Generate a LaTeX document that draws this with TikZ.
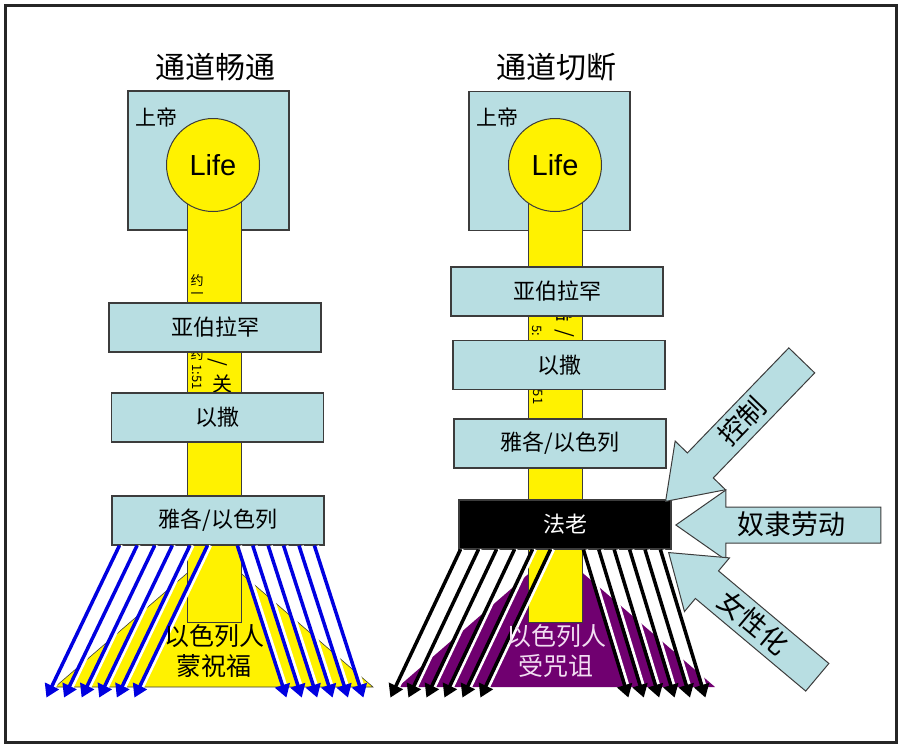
\documentclass[tikz,border=0pt]{standalone}
\usepackage{fontspec}
\setmainfont{Noto Sans CJK SC}
\newfontfamily\lifefont{Liberation Sans}
\usetikzlibrary{shapes.arrows,arrows.meta}

\definecolor{heaven}{RGB}{184,222,226}
\definecolor{edge}{RGB}{60,60,60}
\definecolor{blessblue}{RGB}{0,0,225}
\definecolor{cursepurple}{RGB}{112,0,112}
\definecolor{cursetext}{RGB}{242,222,242}
\newcommand\fsz[1]{\fontsize{#1}{#1}\selectfont}

\begin{document}
\begin{tikzpicture}[x=1pt, y=-1pt,
	title/.style={font=\fsz{30}},
	god/.style={draw=edge, fill=heaven, line width=1.2pt, minimum width=161pt, minimum height=139pt, inner sep=0pt},
	life/.style={circle, draw=edge, fill=yellow, line width=1pt, minimum size=93pt, inner sep=0pt, font=\lifefont\fsz{29}},
	pillar/.style={draw=edge, fill=yellow, line width=1pt, minimum width=54pt, minimum height=#1, inner sep=0pt},
	gen/.style={draw=edge, fill=heaven, line width=1.2pt, minimum width=212pt, minimum height=49pt, inner sep=0pt, font=\fsz{22}},
	verse/.style={inner sep=0pt, font=\fsz{#1}},
	stream/.style={line width=3.5pt, -{Triangle[width=15pt,length=13pt]}, preaction={draw=white, line width=3pt, arrows=-, transform canvas={xshift=3.2pt}}},
	force/.style={single arrow, draw=edge, fill=heaven, line width=1pt, shape border rotate=180, single arrow head extend=17pt, single arrow tip angle=70, minimum height=#1, inner xsep=4pt, inner ysep=4pt, text height=23pt, text depth=4pt, font=\fsz{27}}
	]
	\useasboundingbox (0,0) rectangle (900,745);

	% left: channel open
	\fill[yellow, draw=edge, line width=0.6pt] (55,687) -- (214,550) -- (373,687) -- cycle;
	\node (godL) at (208.5,160.5) [god] {};
	\node (pillarL) at (214,411) [pillar=422pt] {};
	\node (lifeL) at (213,165) [life] {Life};
	\node (godtxtL) at (132,117) [anchor=west, font=\fsz{21}] {上帝};
	\node (v1) at (197,281) [verse=13] {约};
	\node (v2) at (197,296) [verse=13] {一};
	\node (v3) at (197,355) [verse=13] {约};
	\node (v4) at (197,377) [verse=13, rotate=-90] {1:51};
	\node (v5) at (218,362) [verse=20, rotate=-90] {/};
	\node (v6) at (222,384) [verse=20] {关};
	\node (abrahamL) at (215,327.5) [gen] {亚伯拉罕};
	\node (isaacL) at (217.5,417.5) [gen] {以撒};
	\node (jacobL) at (218,520.5) [gen] {雅各/以色列};
	\foreach \k in {0,...,5} {
		\draw[stream, blessblue] ([xshift=8+17.6*\k]jacobL.south west) -- ++(-73,152);
		\draw[stream, blessblue] ([xshift=126+15.4*\k]jacobL.south west) -- ++(49,152);
	}
	\node (crowdL) at (214,651) [align=center, font=\fontsize{25}{30}\selectfont] {以色列人\\蒙祝福};
	\node (titleL) at (215,67) [title] {通道畅通};

	% right: channel cut
	\fill[cursepurple] (398,687) -- (556,550) -- (715,687) -- cycle;
	\node (godR) at (549.5,161) [god] {};
	\node (pillarR) at (555,411) [pillar=422pt] {};
	\node (lifeR) at (555,165) [life] {Life};
	\node (godtxtR) at (473,117) [anchor=west, font=\fsz{21}] {上帝};
	\node (w1) at (564,312) [verse=20] {部};
	\node (w2) at (565,333) [verse=20, rotate=-90] {/};
	\node (w3) at (537,331) [verse=13, rotate=-90] {5:};
	\node (w4) at (538,397) [verse=13, rotate=-90] {51};
	\node (abrahamR) at (557,291.5) [gen] {亚伯拉罕};
	\node (isaacR) at (559,365) [gen] {以撒};
	\node (jacobR) at (560,443.5) [gen] {雅各/以色列};
	\node (pharaoh) at (565,524.5) [gen, fill=black, text=white] {法老};
	\foreach \k in {0,...,5} {
		\draw[stream, black] ([xshift=2+18*\k]pharaoh.south west) -- ++(-70,148);
		\draw[stream, black] ([xshift=125+15.4*\k]pharaoh.south west) -- ++(45,148);
	}
	\node (crowdR) at (556,651) [align=center, text=cursetext, font=\fontsize{25}{30}\selectfont] {以色列人\\受咒诅};
	\node (titleR) at (556,67) [title] {通道切断};

	\node (control) at (665,502) [force=196pt, anchor=tip, rotate=46] {控制};
	\node (labour) at (675,525) [force=205pt, anchor=tip] {奴隶劳动};
	\node (woman) at (668,552) [force=194pt, anchor=tip, rotate=-40] {女性化};

	\draw[line width=3pt, black!85] (5,5) rectangle (896,742);
\end{tikzpicture}
\end{document}
